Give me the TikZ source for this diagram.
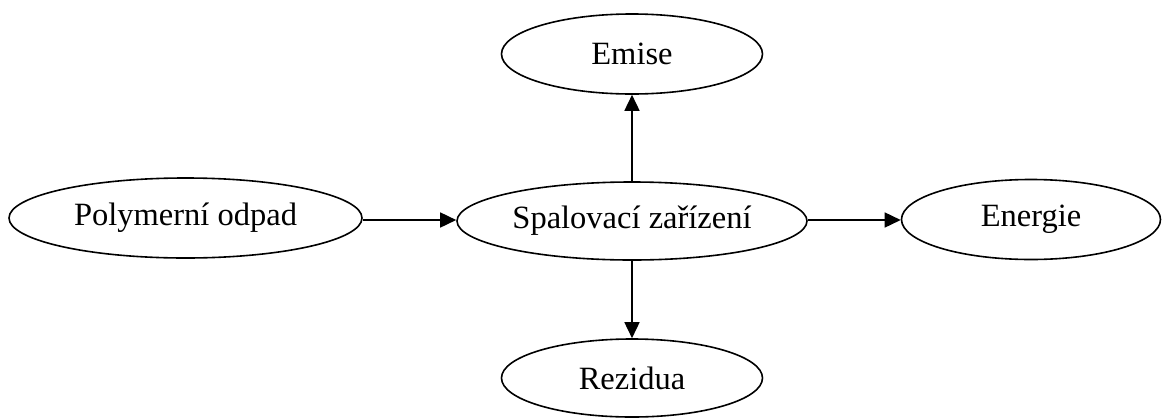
\documentclass[tikz,border=0pt]{standalone}
\usepackage{fontspec}
\setmainfont{Liberation Serif}
\usetikzlibrary{shapes.geometric,arrows.meta}
\begin{document}
\begin{tikzpicture}[x=1pt,y=-1pt,
  ell/.style={ellipse,draw,line width=1.6pt,inner sep=0pt,font=\fontsize{32.5}{38}\selectfont},
  conn/.style={line width=1.6pt,-{Triangle[length=16pt,width=15pt]}}]
\useasboundingbox (0,0) rectangle (1162,418);
\node[ell,minimum width=353pt,minimum height=80pt] (poly) at (185.5,218) {Polymerní odpad};
\node[ell,minimum width=350pt,minimum height=78pt] (spal) at (632,221) {Spalovací zařízení};
\node[ell,minimum width=261pt,minimum height=80pt] (emise) at (632,54) {Emise};
\node[ell,minimum width=259pt,minimum height=80pt] (ener) at (1031,219.5) {Energie};
\node[ell,minimum width=261pt,minimum height=78pt] (rez) at (632,378) {Rezidua};
\draw[conn] (poly.east |- 0,220) -- (spal.west |- 0,220);
\draw[conn] (spal.east |- 0,220) -- (ener.west |- 0,220);
\draw[conn] (spal.north) -- (emise.south);
\draw[conn] (spal.south) -- (rez.north);
\end{tikzpicture}
\end{document}
